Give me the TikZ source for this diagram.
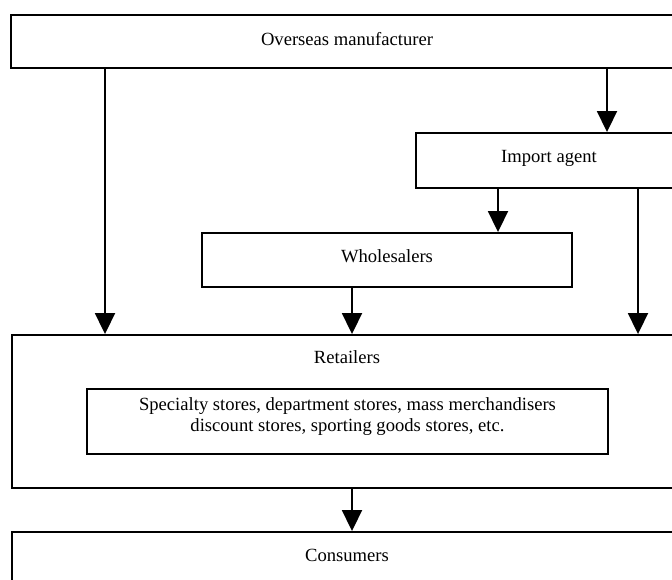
\documentclass[tikz,border=0pt]{standalone}
\usepackage{fontspec}
\setmainfont{Liberation Serif}
\usetikzlibrary{arrows.meta}
\tikzset{
  box/.style={draw, line width=1.9pt, inner sep=0pt, rectangle},
  lbl/.style={inner sep=0pt, font=\fontsize{18.6}{21}\selectfont, align=center},
  arr/.style={line width=1.9pt, -{Triangle[length=21pt,width=20pt]}, shorten >=0pt},
}
\begin{document}
\begin{tikzpicture}[x=1pt,y=-1pt]
\useasboundingbox (0,0) rectangle (672,579);
\clip (0,0) rectangle (672,579);
% boxes
\node[box, minimum width=672pt, minimum height=53pt] (om) at (347,41.5) {};
\node[lbl] (omt) at (347,39) {Overseas manufacturer};
\node[box, minimum width=266pt, minimum height=55pt] (ia) at (549,160.5) {};
\node[lbl] (iat) at (549,158) {Import agent};
\node[box, minimum width=370pt, minimum height=54pt] (wh) at (387,260) {};
\node[lbl] (wht) at (387,256) {Wholesalers};
\node[box, minimum width=670pt, minimum height=153pt] (ret) at (347,411.5) {};
\node[lbl] (rett) at (347,357) {Retailers};
\node[box, minimum width=521pt, minimum height=65pt] (inn) at (347.5,421.5) {};
\node[lbl] (innt) at (347.5,416.5) {Specialty stores, department stores, mass merchandisers\\discount stores, sporting goods stores, etc.};
\node[box, minimum width=670pt, minimum height=90pt] (con) at (347,577) {};
\node[lbl] (cont) at (347,555) {Consumers};
% arrow columns
\coordinate (xa) at (105,0);
\coordinate (xb) at (607,0);
\coordinate (xc) at (498,0);
\coordinate (xd) at (638,0);
\coordinate (xe) at (352,0);
\draw[arr] (xa |- om.south) -- (xa |- ret.north);
\draw[arr] (xb |- om.south) -- (xb |- ia.north);
\draw[arr] (xc |- ia.south) -- (xc |- wh.north);
\draw[arr] (xd |- ia.south) -- (xd |- ret.north);
\draw[arr] (xe |- wh.south) -- (xe |- ret.north);
\draw[arr] (xe |- ret.south) -- (xe |- con.north);
\end{tikzpicture}
\end{document}
